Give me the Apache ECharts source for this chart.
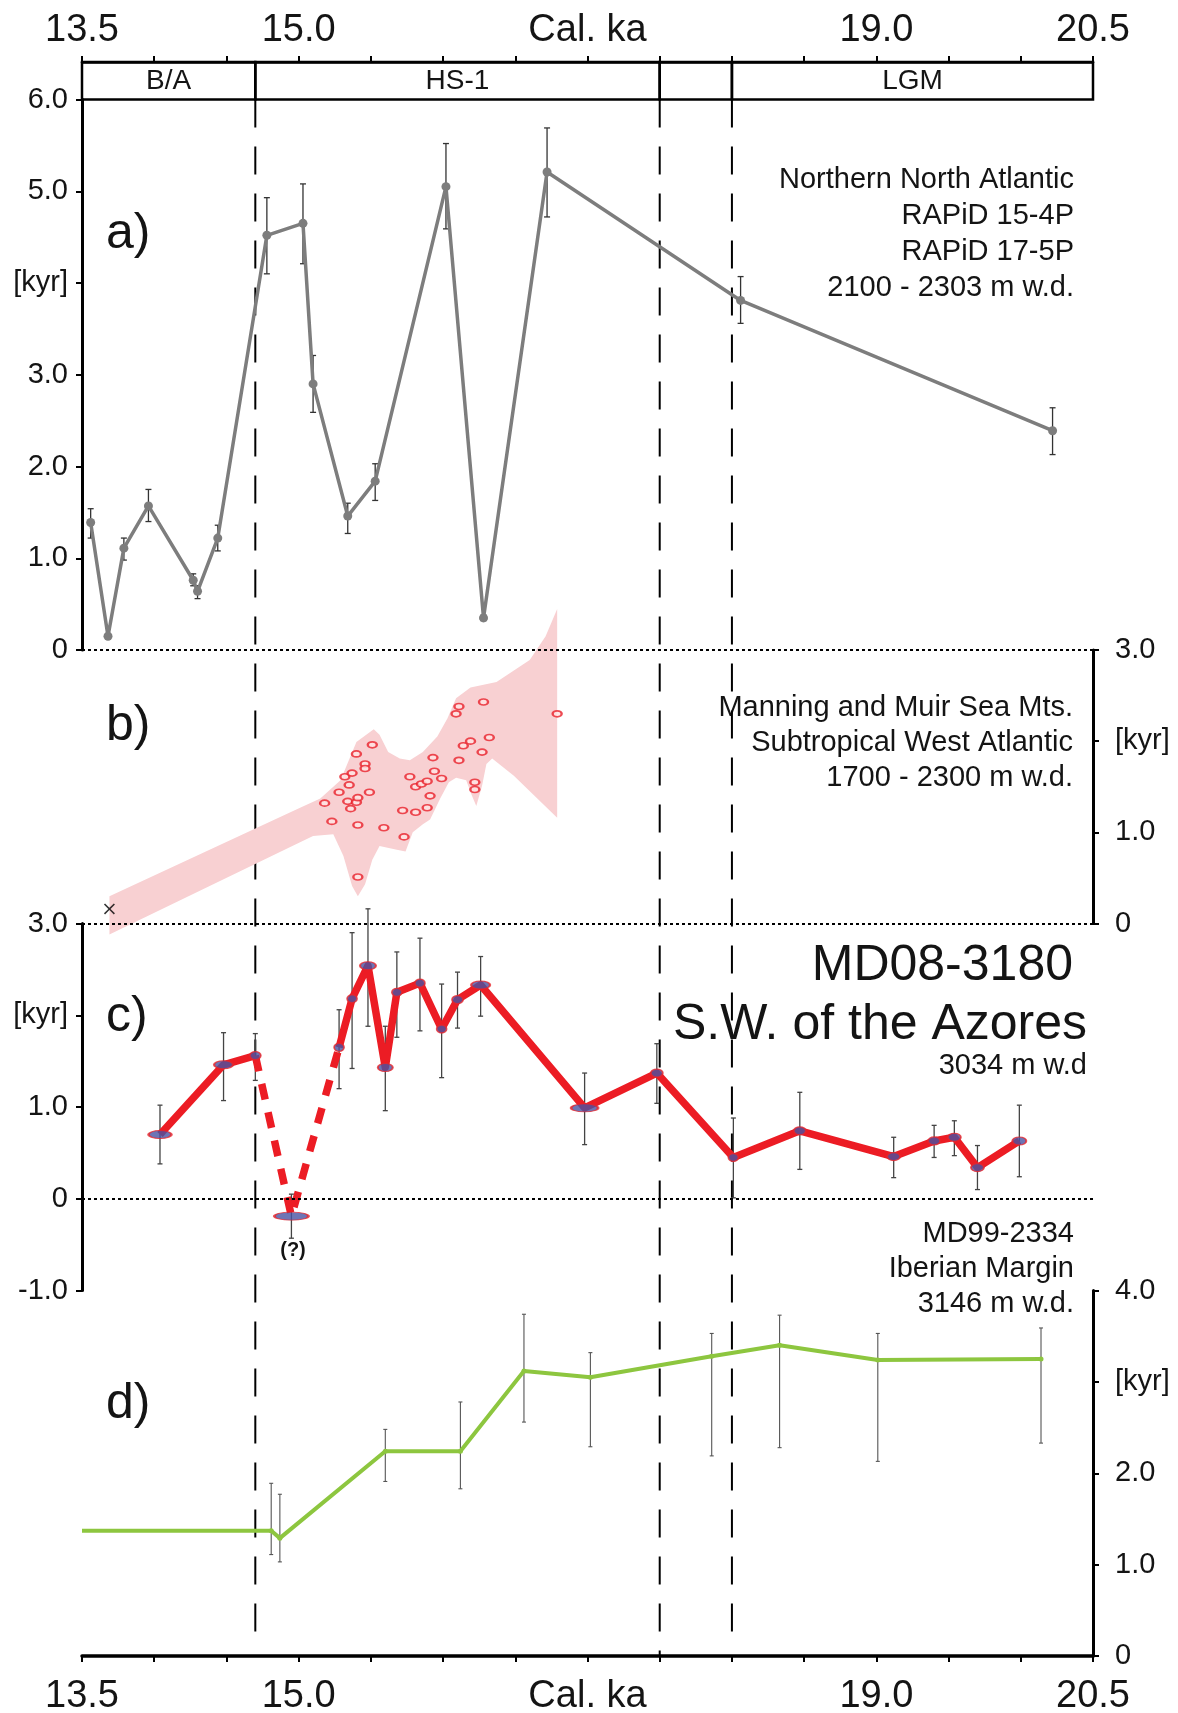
<!DOCTYPE html>
<html>
<head>
<meta charset="utf-8">
<script src="https://cdn.jsdelivr.net/npm/echarts@6/dist/echarts.min.js"></script>
<style>
html,body{margin:0;padding:0;background:#fff;}
#chart{width:1178px;height:1713px;}
</style>
</head>
<body>
<div id="chart"></div>
<script>
// ---------------- DATA ----------------
const xLabelValues = [13.5, 15.0, 17.0, 19.0, 20.5];
const xLabelTexts = ['13.5', '15.0', 'Cal. ka', '19.0', '20.5'];

const periodNames = ['B/A', 'HS-1', '', 'LGM'];
const periodStart = [13.5, 14.7, 17.5, 18.0];
const periodEnd = [14.7, 17.5, 18.0, 20.5];
const boundaryAges = [14.7, 17.5, 18.0];

// a) Northern North Atlantic
const aYLabels = ['0', '1.0', '2.0', '3.0', '[kyr]', '5.0', '6.0'];
const aAge = [13.56, 13.68, 13.79, 13.96, 14.27, 14.30, 14.44, 14.78, 15.03, 15.10, 15.34, 15.53, 16.02, 16.28, 16.72, 18.06, 20.22];
const aVal = [1.39, 0.15, 1.11, 1.57, 0.76, 0.64, 1.22, 4.52, 4.65, 2.90, 1.46, 1.84, 5.05, 0.35, 5.21, 3.81, 2.39];
const aLow = [1.22, 0.15, 0.98, 1.40, 0.70, 0.56, 1.08, 4.10, 4.21, 2.59, 1.27, 1.63, 4.59, 0.32, 4.72, 3.56, 2.13];
const aHigh = [1.54, 0.15, 1.22, 1.75, 0.83, 0.70, 1.36, 4.93, 5.08, 3.21, 1.60, 2.03, 5.52, 0.38, 5.69, 4.07, 2.64];

// b) Manning and Muir Sea Mts.
const bYLabels = ['0', '1.0', '[kyr]', '3.0'];
const bAge = [15.18, 15.23, 15.28, 15.32, 15.37, 15.35, 15.34, 15.36, 15.40, 15.41, 15.40, 15.41, 15.41, 15.46, 15.46, 15.49, 15.51, 15.59, 15.72, 15.73, 15.77, 15.81, 15.81, 15.85, 15.89, 15.89, 15.91, 15.93, 15.94, 15.99, 16.09, 16.11, 16.11, 16.14, 16.19, 16.22, 16.22, 16.27, 16.28, 16.32, 16.79];
const bVal = [1.32, 1.12, 1.44, 1.61, 1.65, 1.52, 1.34, 1.26, 1.33, 1.38, 1.86, 1.08, 0.51, 1.75, 1.70, 1.44, 1.96, 1.05, 1.24, 0.95, 1.61, 1.22, 1.50, 1.53, 1.56, 1.27, 1.40, 1.82, 1.67, 1.59, 2.30, 2.38, 1.79, 1.95, 2.00, 1.55, 1.47, 1.88, 2.43, 2.04, 2.30];
const bCrossAge = [13.69];
const bCrossVal = [0.16];
const bandUpperAge = [13.69, 15.01, 15.15, 15.29, 15.40, 15.52, 15.56, 15.62, 15.70, 15.77, 15.86, 15.96, 16.03, 16.09, 16.19, 16.37, 16.60, 16.71, 16.79];
const bandUpperVal = [0.30, 1.27, 1.37, 1.57, 1.99, 2.13, 2.07, 1.88, 1.81, 1.79, 1.88, 2.05, 2.25, 2.47, 2.59, 2.65, 2.89, 3.15, 3.45];
const bandLowerAge = [13.69, 15.01, 15.10, 15.24, 15.31, 15.37, 15.41, 15.46, 15.51, 15.56, 15.68, 15.74, 15.79, 15.86, 15.91, 15.98, 16.04, 16.09, 16.16, 16.20, 16.23, 16.27, 16.30, 16.34, 16.49, 16.79];
const bandLowerVal = [-0.12, 0.89, 0.96, 0.98, 0.74, 0.41, 0.30, 0.43, 0.70, 0.85, 0.81, 0.79, 1.00, 1.09, 1.14, 1.37, 1.55, 1.60, 1.57, 1.40, 1.29, 1.51, 1.75, 1.81, 1.62, 1.16];

// c) MD08-3180
const cYLabels = ['-1.0', '0', '1.0', '[kyr]', '3.0'];
const cAge = [14.04, 14.48, 14.70, 14.95, 15.28, 15.37, 15.48, 15.60, 15.68, 15.84, 15.99, 16.10, 16.26, 16.98, 17.48, 18.01, 18.47, 19.12, 19.40, 19.54, 19.70, 19.99];
const cVal = [0.70, 1.46, 1.56, -0.19, 1.65, 2.18, 2.54, 1.43, 2.25, 2.35, 1.85, 2.17, 2.33, 0.99, 1.37, 0.45, 0.74, 0.46, 0.63, 0.67, 0.34, 0.63];
const cLow = [0.38, 1.07, 1.29, -0.43, 1.20, 1.42, 1.88, 0.96, 1.76, 1.83, 1.32, 1.86, 1.99, 0.59, 1.04, 0.01, 0.32, 0.23, 0.45, 0.47, 0.10, 0.24];
const cHigh = [1.02, 1.81, 1.80, 0.05, 2.06, 2.90, 3.16, 1.88, 2.69, 2.84, 2.34, 2.47, 2.64, 1.37, 1.69, 0.88, 1.16, 0.67, 0.80, 0.85, 0.58, 1.02];
const cDashedIdx = [2, 3, 4];

// d) MD99-2334
const dYLabels = ['0', '1.0', '2.0', '[kyr]', '4.0'];
const dAge = [13.5, 14.81, 14.87, 15.60, 16.12, 16.56, 17.02, 17.86, 18.33, 19.01, 20.14];
const dVal = [1.37, 1.37, 1.29, 2.24, 2.24, 3.12, 3.05, 3.28, 3.40, 3.24, 3.25];
const dLow = [null, 1.11, 1.03, 1.91, 1.83, 2.56, 2.29, 2.19, 2.28, 2.13, 2.33];
const dHigh = [null, 1.89, 1.77, 2.48, 2.78, 3.74, 3.32, 3.53, 3.73, 3.53, 3.59];

// ---------------- STYLE / LAYOUT ----------------
const FONT = "'Liberation Sans', Arial, Helvetica, sans-serif";
const INK = '#141414';
const cMarkerW = [23, 19, 11, 34, 10, 10, 16, 15, 10, 10, 10, 11, 19, 27, 12, 10, 12, 13, 12, 13, 13, 14];
const dashBottomGap = [15, 0, 15];

const chart = echarts.init(document.getElementById('chart'), null, { renderer: 'canvas' });

function xLabelFmt(v) {
  const i = xLabelValues.findIndex(t => Math.abs(t - v) < 1e-6);
  return i >= 0 ? xLabelTexts[i] : '';
}

function gridDef(top, height) {
  return { left: 82, width: 1011, top: top, height: height, containLabel: false, outerBoundsMode: 'none' };
}

function hiddenX(gi) {
  return { type: 'value', gridIndex: gi, min: 13.5, max: 20.5, interval: 0.5, show: false };
}

function yAx(gi, min, max, pos, labels, offset) {
  return {
    type: 'value', gridIndex: gi, min: min, max: max, interval: 1, position: pos,
    axisLine: { show: true, onZero: false, lineStyle: { color: '#000', width: 3 } },
    axisTick: { show: true, length: 6, lineStyle: { color: '#000', width: 2 } },
    axisLabel: {
      show: true, fontSize: 29, fontFamily: FONT, color: INK, margin: pos === 'left' ? 14 : 22,
      showMinLabel: true, showMaxLabel: true,
      formatter: v => labels[Math.round(v - offset)]
    },
    splitLine: { show: false }
  };
}

function errSeries(xi, ages, lows, highs, color, cap, width) {
  const data = [];
  ages.forEach((a, i) => { if (lows[i] != null) data.push([a, lows[i], highs[i]]); });
  return {
    type: 'custom', xAxisIndex: xi, yAxisIndex: xi, clip: false, z: 3, silent: true,
    data: data,
    renderItem: (params, api) => {
      const t = api.coord([api.value(0), api.value(2)]);
      const b = api.coord([api.value(0), api.value(1)]);
      const st = { stroke: color, lineWidth: width };
      return {
        type: 'group', children: [
          { type: 'line', shape: { x1: t[0], y1: t[1], x2: b[0], y2: b[1] }, style: st },
          { type: 'line', shape: { x1: t[0] - cap, y1: t[1], x2: t[0] + cap, y2: t[1] }, style: st },
          { type: 'line', shape: { x1: b[0] - cap, y1: b[1], x2: b[0] + cap, y2: b[1] }, style: st }
        ]
      };
    }
  };
}

const dottedMark = {
  silent: true, symbol: 'none', animation: false,
  label: { show: false },
  lineStyle: { type: [3, 3], color: '#000', width: 1.8 },
  data: [{ yAxis: 0 }]
};

const solidC = cAge.map((a, i) => (cDashedIdx.indexOf(i) > 0 && cDashedIdx.indexOf(i) < cDashedIdx.length - 1) ? [a, null] : [a, cVal[i]]);
const dashedC = cDashedIdx.map(i => [cAge[i], cVal[i]]);

function txt(x, y, s, size, align, extra) {
  return { type: 'text', x: x, y: y, style: Object.assign({ text: s, fontSize: size, fontFamily: FONT, fill: INK, align: align, verticalAlign: 'middle' }, extra || {}) };
}

const option = {
  animation: false,
  backgroundColor: '#ffffff',
  grid: [
    gridDef(62, 37.5),
    gridDef(99.5, 550.5),
    gridDef(650, 273.5),
    gridDef(923.5, 367),
    gridDef(1290.5, 365.5),
    gridDef(99.5, 1556.5)
  ],
  xAxis: [
    {
      type: 'value', gridIndex: 0, min: 13.5, max: 20.5, interval: 0.5, position: 'top',
      axisLine: { show: true, onZero: false, lineStyle: { color: '#000', width: 2.5 } },
      axisTick: { show: true, length: 6, lineStyle: { color: '#000', width: 2 } },
      axisLabel: { show: true, fontSize: 38, fontFamily: FONT, color: INK, margin: 12, formatter: xLabelFmt, showMinLabel: true, showMaxLabel: true },
      splitLine: { show: false }
    },
    hiddenX(1), hiddenX(2), hiddenX(3),
    {
      type: 'value', gridIndex: 4, min: 13.5, max: 20.5, interval: 0.5, position: 'bottom',
      axisLine: { show: true, onZero: false, lineStyle: { color: '#000', width: 3.5 } },
      axisTick: { show: true, length: 6, lineStyle: { color: '#000', width: 2 } },
      axisLabel: { show: true, fontSize: 38, fontFamily: FONT, color: INK, margin: 22, formatter: xLabelFmt, showMinLabel: true, showMaxLabel: true },
      splitLine: { show: false }
    },
    hiddenX(5)
  ],
  yAxis: [
    { type: 'value', gridIndex: 0, min: 0, max: 1, show: false },
    yAx(1, 0, 6, 'left', aYLabels, 0),
    yAx(2, 0, 3, 'right', bYLabels, 0),
    yAx(3, -1, 3, 'left', cYLabels, -1),
    yAx(4, 0, 4, 'right', dYLabels, 0),
    { type: 'value', gridIndex: 5, min: 0, max: 1, show: false }
  ],
  series: [
    // period box
    {
      type: 'custom', xAxisIndex: 0, yAxisIndex: 0, clip: false, silent: true, z: 5,
      data: periodStart.map((s, i) => [s, periodEnd[i]]),
      renderItem: (params, api) => {
        const p1 = api.coord([api.value(0), 1]);
        const p2 = api.coord([api.value(1), 0]);
        return {
          type: 'group', children: [
            { type: 'rect', shape: { x: p1[0], y: p1[1], width: p2[0] - p1[0], height: p2[1] - p1[1] },
              style: { fill: 'rgba(0,0,0,0)', stroke: '#000', lineWidth: 2.5 } },
            { type: 'text', x: (p1[0] + p2[0]) / 2, y: (p1[1] + p2[1]) / 2 + 1,
              style: { text: periodNames[params.dataIndex], fontSize: 28, fontFamily: FONT, fill: INK, align: 'center', verticalAlign: 'middle' } }
          ]
        };
      }
    },
    // vertical dashed boundaries
    {
      type: 'custom', xAxisIndex: 5, yAxisIndex: 5, clip: false, silent: true, z: 1,
      data: boundaryAges.map(a => [a, 1]),
      renderItem: (params, api) => {
        const t = api.coord([api.value(0), 1]);
        const b = api.coord([api.value(0), 0]);
        return { type: 'line', shape: { x1: t[0], y1: t[1], x2: b[0], y2: b[1] - dashBottomGap[params.dataIndex] },
          style: { stroke: '#000', lineWidth: 2, lineDash: [28, 19] } };
      }
    },
    // a)
    errSeries(1, aAge, aLow, aHigh, '#333', 3, 1.3),
    {
      type: 'line', xAxisIndex: 1, yAxisIndex: 1, z: 4,
      data: aAge.map((a, i) => [a, aVal[i]]),
      symbol: 'circle', symbolSize: 9, showSymbol: true,
      lineStyle: { color: '#7d7d7d', width: 3.5 },
      itemStyle: { color: '#7d7d7d' },
      markLine: dottedMark
    },
    // b) band
    {
      type: 'custom', xAxisIndex: 2, yAxisIndex: 2, clip: false, silent: true, z: 2,
      data: [[bandUpperAge[0], bandUpperVal[0]]],
      renderItem: (params, api) => {
        const pts = [];
        bandUpperAge.forEach((a, i) => pts.push(api.coord([a, bandUpperVal[i]])));
        for (let i = bandLowerAge.length - 1; i >= 0; i--) pts.push(api.coord([bandLowerAge[i], bandLowerVal[i]]));
        return { type: 'polygon', shape: { points: pts }, style: { fill: '#f8d0d2', stroke: 'none' } };
      }
    },
    {
      type: 'scatter', xAxisIndex: 2, yAxisIndex: 2, z: 4,
      data: bAge.map((a, i) => [a, bVal[i]]),
      symbol: 'circle', symbolSize: [9, 6],
      itemStyle: { color: '#ffe3e3', borderColor: '#e8202a', borderWidth: 2 },
      markLine: dottedMark
    },
    {
      type: 'scatter', xAxisIndex: 2, yAxisIndex: 2, z: 4, clip: false,
      data: bCrossAge.map((a, i) => [a, bCrossVal[i]]),
      symbol: 'path://M0,1 L1,0 L5,4 L9,0 L10,1 L6,5 L10,9 L9,10 L5,6 L1,10 L0,9 L4,5 Z',
      symbolSize: 11, itemStyle: { color: '#000' }
    },
    // c)
    errSeries(3, cAge, cLow, cHigh, '#444', 2.5, 1.3),
    {
      type: 'line', xAxisIndex: 3, yAxisIndex: 3, z: 4, connectNulls: false,
      data: solidC, showSymbol: false, symbol: 'none',
      lineStyle: { color: '#ec1c24', width: 7.5, join: 'round' },
      markLine: dottedMark
    },
    {
      type: 'line', xAxisIndex: 3, yAxisIndex: 3, z: 4,
      data: dashedC, showSymbol: false, symbol: 'none',
      lineStyle: { color: '#ec1c24', width: 7.5, type: [16, 13], cap: 'butt' }
    },
    {
      type: 'scatter', xAxisIndex: 3, yAxisIndex: 3, z: 5,
      data: cAge.map((a, i) => [a, cVal[i]]),
      symbol: 'circle',
      symbolSize: (v, p) => [cMarkerW[p.dataIndex], 8],
      itemStyle: { color: '#4853a3', borderColor: '#e8262b', borderWidth: 1.5 }
    },
    // d)
    errSeries(4, dAge, dLow, dHigh, '#555', 2, 1.1),
    {
      type: 'line', xAxisIndex: 4, yAxisIndex: 4, z: 4,
      data: dAge.map((a, i) => ({ value: [a, dVal[i]], symbol: i === 0 ? 'none' : 'circle' })),
      symbolSize: 5, showSymbol: true,
      lineStyle: { color: '#8dc63f', width: 4 },
      itemStyle: { color: '#8dc63f' }
    }
  ],
  graphic: {
    elements: [
      txt(106, 234, 'a)', 50, 'left'),
      txt(106, 726, 'b)', 50, 'left'),
      txt(106, 1017, 'c)', 50, 'left'),
      txt(106, 1404, 'd)', 50, 'left'),

      txt(1074, 180, 'Northern North Atlantic', 29, 'right'),
      txt(1074, 216, 'RAPiD 15-4P', 29, 'right'),
      txt(1074, 252, 'RAPiD 17-5P', 29, 'right'),
      txt(1074, 288, '2100 - 2303 m w.d.', 29, 'right'),

      txt(1073, 708, 'Manning and Muir Sea Mts.', 29, 'right'),
      txt(1073, 743, 'Subtropical West Atlantic', 29, 'right'),
      txt(1073, 778, '1700 - 2300 m w.d.', 29, 'right'),

      txt(1073, 966, 'MD08-3180', 50, 'right'),
      txt(1087, 1025, 'S.W. of the Azores', 50, 'right'),
      txt(1087, 1066, '3034 m w.d', 29, 'right'),
      txt(293, 1250, '(?)', 20, 'center', { fontWeight: 'bold' }),

      txt(1074, 1234, 'MD99-2334', 29, 'right'),
      txt(1074, 1269, 'Iberian Margin', 29, 'right'),
      txt(1074, 1304, '3146 m w.d.', 29, 'right')
    ]
  }
};

chart.setOption(option);
</script>
</body>
</html>
